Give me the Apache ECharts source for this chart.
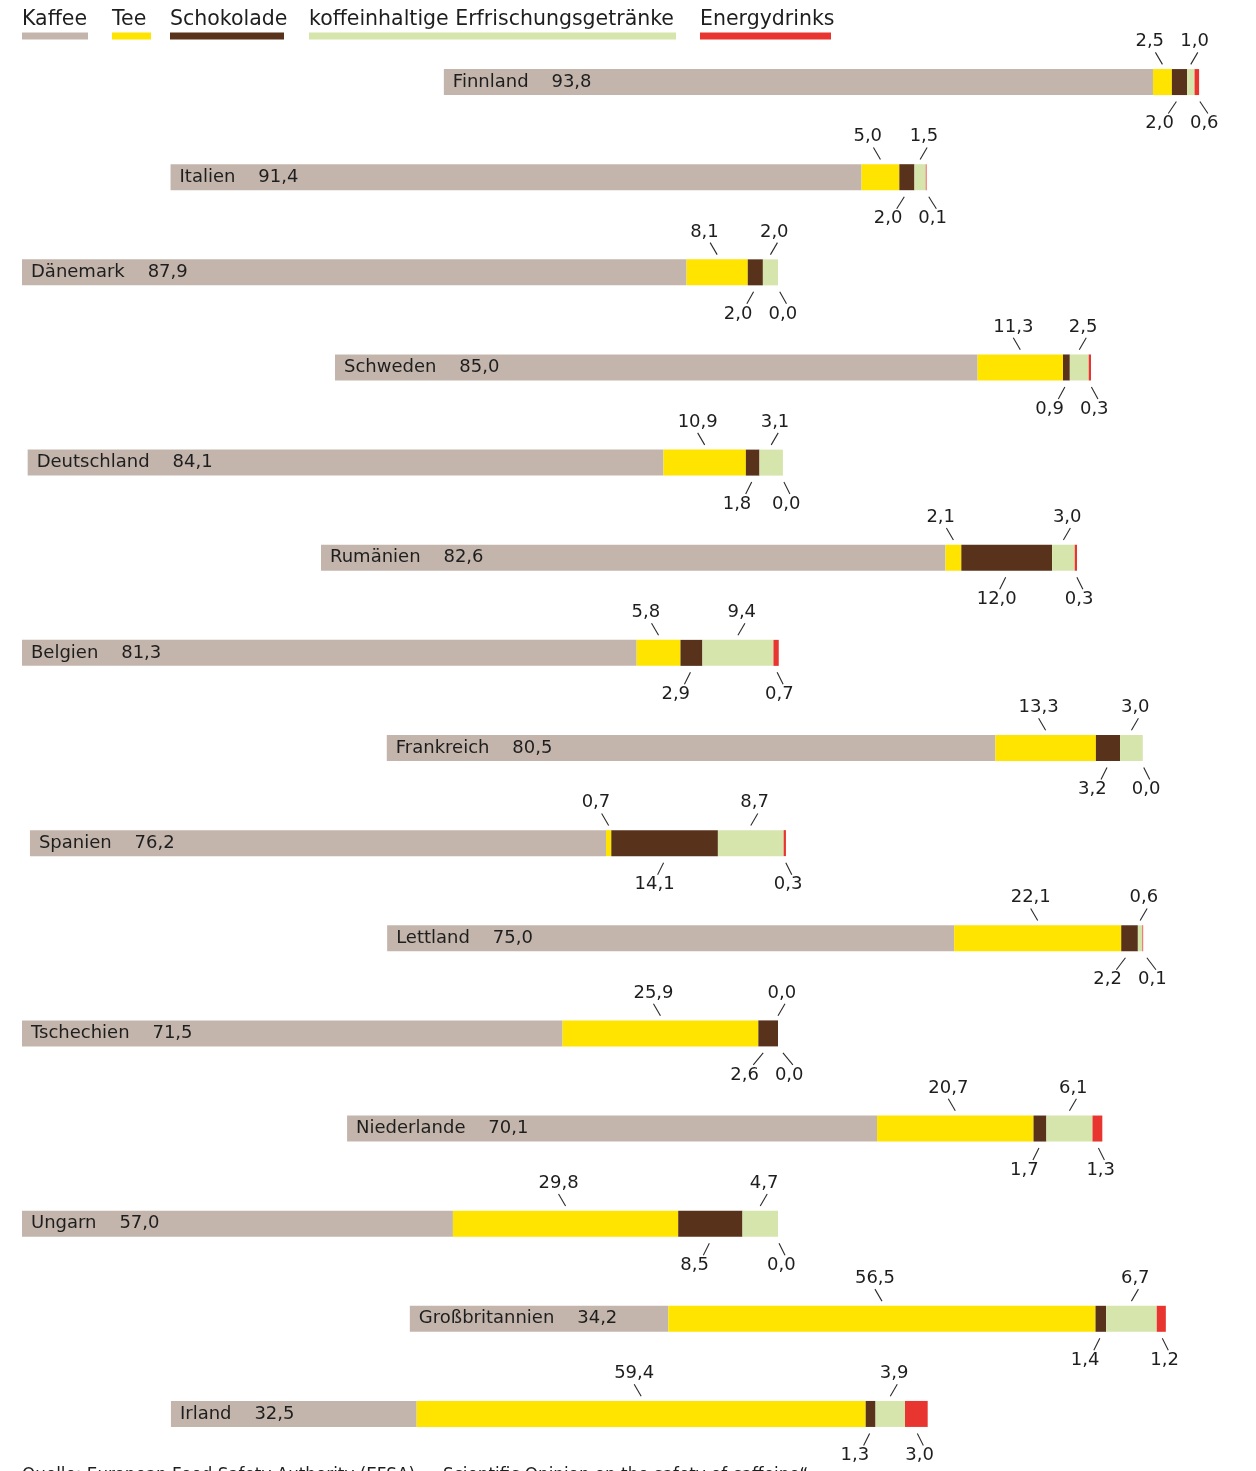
<!DOCTYPE html>
<html>
<head>
<meta charset="utf-8">
<script src="https://cdn.jsdelivr.net/npm/echarts/dist/echarts.min.js"></script>
<style>
html,body{margin:0;padding:0;background:#fff;}
#chart{width:1256px;height:1471px;}
</style>
</head>
<body>
<div id="chart"></div>
<script>
const countries = ['Finnland','Italien','Dänemark','Schweden','Deutschland','Rumänien','Belgien','Frankreich','Spanien','Lettland','Tschechien','Niederlande','Ungarn','Großbritannien','Irland'];
// invisible lead-in of each bar (the bars are staggered in the original)
const offsets = [55.8, 19.65, 0, 41.4, 0.75, 39.55, 0, 48.25, 1.05, 48.3, 0, 43.0, 0, 51.3, 19.7];
const kaffee = [93.8, 91.4, 87.9, 85.0, 84.1, 82.6, 81.3, 80.5, 76.2, 75.0, 71.5, 70.1, 57.0, 34.2, 32.5];
const tee = [2.5, 5.0, 8.1, 11.3, 10.9, 2.1, 5.8, 13.3, 0.7, 22.1, 25.9, 20.7, 29.8, 56.5, 59.4];
const schokolade = [2.0, 2.0, 2.0, 0.9, 1.8, 12.0, 2.9, 3.2, 14.1, 2.2, 2.6, 1.7, 8.5, 1.4, 1.3];
const erfrischung = [1.0, 1.5, 2.0, 2.5, 3.1, 3.0, 9.4, 3.0, 8.7, 0.6, 0.0, 6.1, 4.7, 6.7, 3.9];
const energy = [0.6, 0.1, 0.0, 0.3, 0.0, 0.3, 0.7, 0.0, 0.3, 0.1, 0.0, 1.3, 0.0, 1.2, 3.0];
const seriesNames = ['Kaffee', 'Tee', 'Schokolade', 'koffeinhaltige Erfrischungsgetränke', 'Energydrinks'];
const sourceText = 'Quelle: European Food Safety Authority (EFSA) – „Scientific Opinion on the safety of caffeine“';

const colors = ['#C3B5AC', '#FFE400', '#58321A', '#D6E5AC', '#E8352F'];
const legendX = [22, 112, 170, 309, 700];
const legendW = [66, 39, 114, 367, 131];
const FONT = '"DejaVu Sans", Verdana, sans-serif';
const TXT = '#1e1e1e';

function fmt(v) { return v.toFixed(1).replace('.', ','); }

const chart = echarts.init(document.getElementById('chart'), null, {renderer: 'canvas'});

const valueSeries = [kaffee, tee, schokolade, erfrischung, energy];

const series = [{
  name: 'offset', type: 'bar', stack: 'a', data: offsets, barWidth: 26,
  itemStyle: {color: 'rgba(0,0,0,0)'}, silent: true, emphasis: {disabled: true}
}];
valueSeries.forEach((arr, si) => {
  const s = {
    name: seriesNames[si], type: 'bar', stack: 'a', data: arr, barWidth: 26,
    itemStyle: {color: colors[si]}, emphasis: {disabled: true}
  };
  if (si === 0) {
    s.label = {
      show: true, position: 'insideLeft', distance: 9,
      color: TXT, fontFamily: FONT, fontSize: 18,
      formatter: p => countries[p.dataIndex] + '    ' + fmt(p.value)
    };
  }
  series.push(s);
});

const annoData = countries.map((c, i) => [i, offsets[i], kaffee[i], tee[i], schokolade[i], erfrischung[i], energy[i]]);

function textWidth(t) {
  return echarts.format && echarts.format.getTextRect ? 0 : 0;
}
const measureCtx = document.createElement('canvas').getContext('2d');
measureCtx.font = '18px ' + FONT;
const tw = t => measureCtx.measureText(t).width;

series.push({
  type: 'custom', name: 'annotations', clip: false, silent: true,
  encode: {x: 1, y: 0},
  data: annoData,
  z: 5,
  renderItem: function (params, api) {
    const i = api.value(0);
    const vals = [1, 2, 3, 4, 5, 6].map(d => api.value(d));
    let acc = 0; const edges = [];
    vals.forEach(v => { acc += v; edges.push(acc); });
    const px = v => api.coord([v, i])[0];
    const y = api.coord([0, i])[1];
    const mid = (a, b) => (px(a) + px(b)) / 2;
    const cT = mid(edges[1], edges[2]);
    const cS = mid(edges[2], edges[3]);
    const cE = mid(edges[3], edges[4]);
    const cN = mid(edges[4], edges[5]);
    const L = (x1, y1, x2, y2) => ({type: 'line', shape: {x1, y1, x2, y2}, style: {stroke: '#2a2a2a', lineWidth: 1.1}});
    const T = (x, yy, txt) => ({type: 'text', style: {text: txt, x: x, y: yy, fill: TXT, font: '18px ' + FONT,
      textAlign: 'left', textVerticalAlign: 'middle', align: 'left', verticalAlign: 'middle'}});
    const topA = y - 17.7, topB = y - 29.7, botA = y + 19.5, botB = y + 31.5;
    const tY = y - 40.5, bY = y + 41.5;
    // bottom labels: keep a minimum gap between the two
    const sTxt = fmt(vals[3]), nTxt = fmt(vals[5]);
    let sLeft = cS - 30, nLeft = cN - 11;
    let sShift = 0, nShift = 0;
    const gap = nLeft - (sLeft + tw(sTxt));
    if (gap < 16) { const d = (16 - gap) / 2; sShift = -d; nShift = d; }
    return {type: 'group', children: [
      L(cT, topA, cT - 7, topB), T(cT - 27, tY, fmt(vals[2])),
      L(cE, topA, cE + 7, topB), T(cE - 10.5, tY, fmt(vals[4])),
      L(cS - 1 + sShift * 0.5, botA, cS - 7 + sShift, botB), T(sLeft + sShift, bY, sTxt),
      L(cN + 1 + nShift * 0.5, botA, cN + 7 + nShift, botB), T(nLeft + nShift, bY, nTxt)
    ]};
  }
});

const graphic = [];
seriesNames.forEach((nm, i) => {
  graphic.push({type: 'text', x: legendX[i], y: 19.5, silent: true,
    style: {text: nm, fill: TXT, font: '20.5px ' + FONT, textAlign: 'left', textVerticalAlign: 'middle', align: 'left', verticalAlign: 'middle'}});
  graphic.push({type: 'rect', x: legendX[i], y: 32.5, silent: true,
    shape: {x: 0, y: 0, width: legendW[i], height: 7}, style: {fill: colors[i]}});
});
graphic.push({type: 'text', x: 22, y: 1475.5, silent: true,
  style: {text: sourceText, fill: TXT, font: '16.8px ' + FONT, textAlign: 'left', textVerticalAlign: 'middle', align: 'left', verticalAlign: 'middle'}});

chart.setOption({
  animation: false,
  backgroundColor: '#ffffff',
  grid: {left: 22, right: 24.4, top: 34.5, bottom: 9.5, containLabel: false},
  xAxis: {type: 'value', min: 0, max: 160, show: false},
  yAxis: {type: 'category', data: countries, inverse: true, show: false},
  tooltip: {show: false},
  series: series,
  graphic: graphic
});
</script>
</body>
</html>
